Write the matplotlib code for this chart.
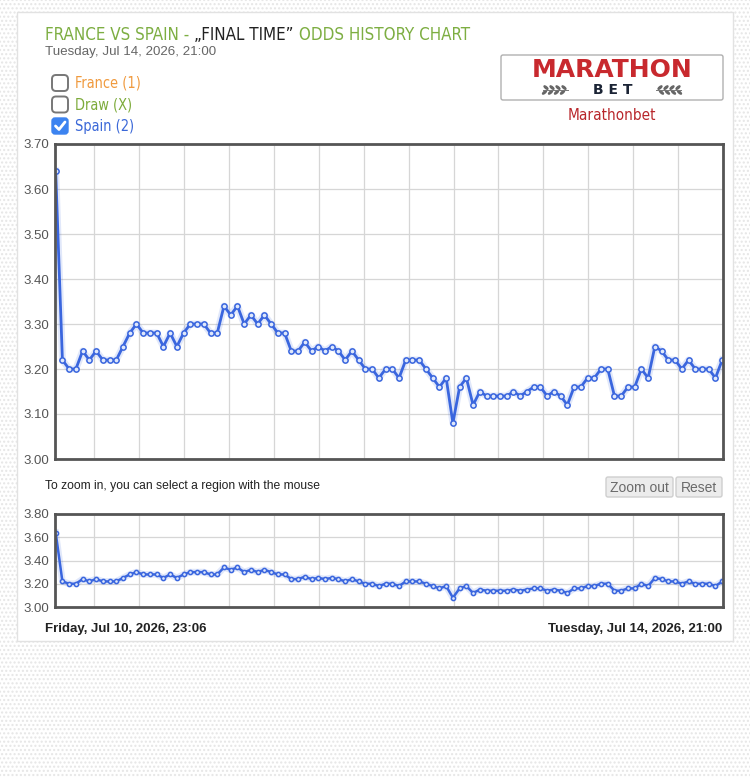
import numpy as np
import matplotlib
matplotlib.use("Agg")
import matplotlib.pyplot as plt
from matplotlib import font_manager
from matplotlib.font_manager import FontProperties
from matplotlib.patches import FancyBboxPatch, Rectangle, Ellipse

# Data
title_left = "FRANCE VS SPAIN - "
title_mid = "\u201eFINAL TIME\u201d"
title_right = " ODDS HISTORY CHART"
match_date = "Tuesday, Jul 14, 2026, 21:00"
range_start = "Friday, Jul 10, 2026, 23:06"
range_end = "Tuesday, Jul 14, 2026, 21:00"
series_names = ["France (1)", "Draw (X)", "Spain (2)"]
series_checked = [False, False, True]
bookmaker = "Marathonbet"

spain_odds = [3.64, 3.22, 3.20, 3.20, 3.24, 3.22, 3.24, 3.22, 3.22, 3.22,
              3.25, 3.28, 3.30, 3.28, 3.28, 3.28, 3.25, 3.28, 3.25, 3.28,
              3.30, 3.30, 3.30, 3.28, 3.28, 3.34, 3.32, 3.34, 3.30, 3.32,
              3.30, 3.32, 3.30, 3.28, 3.28, 3.24, 3.24, 3.26, 3.24, 3.25,
              3.24, 3.25, 3.24, 3.22, 3.24, 3.22, 3.20, 3.20, 3.18, 3.20,
              3.20, 3.18, 3.22, 3.22, 3.22, 3.20, 3.18, 3.16, 3.18, 3.08,
              3.16, 3.18, 3.12, 3.15, 3.14, 3.14, 3.14, 3.14, 3.15, 3.14,
              3.15, 3.16, 3.16, 3.14, 3.15, 3.14, 3.12, 3.16, 3.16, 3.18,
              3.18, 3.20, 3.20, 3.14, 3.14, 3.16, 3.16, 3.20, 3.18, 3.25,
              3.24, 3.22, 3.22, 3.20, 3.22, 3.20, 3.20, 3.20, 3.18, 3.22]

main_yticks = [3.00, 3.10, 3.20, 3.30, 3.40, 3.50, 3.60, 3.70]
nav_yticks = [3.00, 3.20, 3.40, 3.60, 3.80]

# Fonts: look for a condensed face for the headline style, else Roboto
fonts = font_manager.fontManager.ttflist
cond = [f for f in fonts if ("Condensed" in f.fname or "Narrow" in f.fname)
        and "Bold" not in f.fname and "Oblique" not in f.fname and "Italic" not in f.fname]
if cond:
    narrow_fp = FontProperties(fname=cond[0].fname)
else:
    narrow_fp = FontProperties(family="Roboto")
names = {f.name for f in fonts}
sans = "Liberation Sans" if "Liberation Sans" in names else "DejaVu Sans"

W, H = 750, 778
fig = plt.figure(figsize=(W / 100, H / 100), dpi=100)
fig.patch.set_facecolor("white")
renderer = fig.canvas.get_renderer()

# full-figure pixel canvas for decoration and text
bg = fig.add_axes([0, 0, 1, 1])
bg.set_xlim(0, W)
bg.set_ylim(H, 0)
bg.axis("off")
bg.add_patch(Rectangle((0, 0), W, H, facecolor="white", edgecolor="#e6e6e6",
                       hatch="....", lw=0))
bg.add_patch(Rectangle((17, 12), 716, 629, facecolor="white", edgecolor="#e2e2e2", lw=1))


def px_axes(x0, y0, x1, y1):
    return fig.add_axes([x0 / W, 1 - y1 / H, (x1 - x0) / W, (y1 - y0) / H])


def fit_size(parts, width, size, fp):
    # shrink the font until the joined parts are as wide as wanted
    probe = bg.text(0, 0, "".join(parts), fontproperties=fp, fontsize=size)
    w = probe.get_window_extent(renderer).width
    probe.remove()
    return min(size, size * width / w)


# title with three colours
green = "#7dae42"
tsize = fit_size([title_left, title_mid, title_right], 425, 14.5, narrow_fp)
x = 45
for txt, col in [(title_left, green), (title_mid, "#222222"), (title_right, green)]:
    t = bg.text(x, 39.5, txt, color=col, fontproperties=narrow_fp, fontsize=tsize, va="baseline")
    x += t.get_window_extent(renderer).width
bg.text(45, 52, match_date, color="#666666", fontsize=9.6, family=sans, va="center")

# checkboxes
label_colors = ["#f09a3e", "#7dab3b", "#3b68d8"]
lsize = fit_size([series_names[0]], 66, 11, narrow_fp)
for i, (name, chk, col) in enumerate(zip(series_names, series_checked, label_colors)):
    yc = 83 + i * 21.5
    if chk:
        bg.add_patch(FancyBboxPatch((52, yc - 8), 16, 16, boxstyle="round,pad=0,rounding_size=3",
                                    facecolor="#3c83f0", edgecolor="#3c83f0", lw=1))
        bg.plot([55.5, 59, 65], [yc, yc + 3.5, yc - 4], color="white", lw=2, solid_capstyle="round")
    else:
        bg.add_patch(FancyBboxPatch((52, yc - 8), 16, 16, boxstyle="round,pad=0,rounding_size=4",
                                    facecolor="white", edgecolor="#777777", lw=1.4))
    bg.text(75, yc, name, color=col, fontproperties=narrow_fp, fontsize=lsize, va="center")

# bookmaker logo
bg.add_patch(FancyBboxPatch((501, 55), 222, 45, boxstyle="round,pad=0,rounding_size=2",
                            facecolor="white", edgecolor="#b0b0b0", lw=1))
bg.text(612, 70, "MARATHON", color="#c8292e", fontsize=18, fontweight="bold",
        family="DejaVu Sans", ha="center", va="center")
bg.text(612.5, 90, "B E T", color="#1b2435", fontsize=10, fontweight="bold",
        family="DejaVu Sans", ha="center", va="center")
for side in (-1, 1):
    x_start = 612 + side * 40
    bg.plot([x_start + side * 4, x_start + side * 29], [90, 90], color="#777777", lw=0.7)
    for k in range(4):
        ex = x_start + side * (8 + k * 6)
        bg.add_patch(Ellipse((ex, 87.6), 4.8, 1.8, angle=-side * 40, color="#666666"))
        bg.add_patch(Ellipse((ex + side * 1.5, 92.4), 4.8, 1.8, angle=side * 40, color="#666666"))
msize = fit_size([bookmaker], 88, 12.5, narrow_fp)
bg.text(612, 115, bookmaker, color="#b8262b", fontproperties=narrow_fp, fontsize=msize,
        ha="center", va="center")

blue = "#3a66de"


def draw_series(ax, lw, ms):
    xs = np.arange(len(spain_odds))
    ax.plot(xs, spain_odds, color=blue, lw=lw + 3, alpha=0.15, solid_joinstyle="round")
    ax.plot(xs, spain_odds, color=blue, lw=lw, marker="o", ms=ms, mfc="#dfe8fb",
            mec=blue, mew=1.1, solid_joinstyle="round")
    ax.set_xlim(-0.1, len(spain_odds) - 0.9)
    ax.set_xticks(np.arange(5.74, len(spain_odds), 6.67))
    ax.tick_params(axis="x", length=0, labelbottom=False)
    ax.tick_params(axis="y", length=0, labelsize=9.5, labelcolor="#555555", pad=4)
    ax.grid(True, color="#d6d6d6", lw=0.9)
    ax.set_axisbelow(True)
    for s in ax.spines.values():
        s.set_color("#555555")
        s.set_linewidth(2)


# main chart
ax = px_axes(55, 144, 723, 459)
draw_series(ax, 2.0, 3.8)
ax.set_ylim(3.0, 3.7)
ax.set_yticks(main_yticks)
ax.set_yticklabels([f"{v:.2f}" for v in main_yticks], family=sans)

# hint and buttons
bg.text(45, 486, "To zoom in, you can select a region with the mouse", color="#222222",
        fontsize=8.7, family=sans, va="center")
for (x0, x1, lab) in [(606, 673, "Zoom out"), (676, 722, "Reset")]:
    bg.add_patch(FancyBboxPatch((x0, 477), x1 - x0, 20, boxstyle="round,pad=0,rounding_size=2",
                                facecolor="#ececec", edgecolor="#cfcfcf", lw=1))
    bg.text((x0 + x1) / 2, 487.5, lab, color="#6a6a6a", fontsize=10, family=sans,
            ha="center", va="center")

# navigator chart
nav = px_axes(55, 514, 723, 607)
draw_series(nav, 1.8, 3.0)
nav.set_ylim(3.0, 3.8)
nav.set_yticks(nav_yticks)
nav.set_yticklabels([f"{v:.2f}" for v in nav_yticks], family=sans)

bg.text(45, 629, range_start, color="#222222", fontsize=9.5, fontweight="bold",
        family=sans, va="center")
bg.text(722, 629, range_end, color="#222222", fontsize=9.5, fontweight="bold",
        family=sans, va="center", ha="right")

fig.savefig("out.png", dpi=100)
